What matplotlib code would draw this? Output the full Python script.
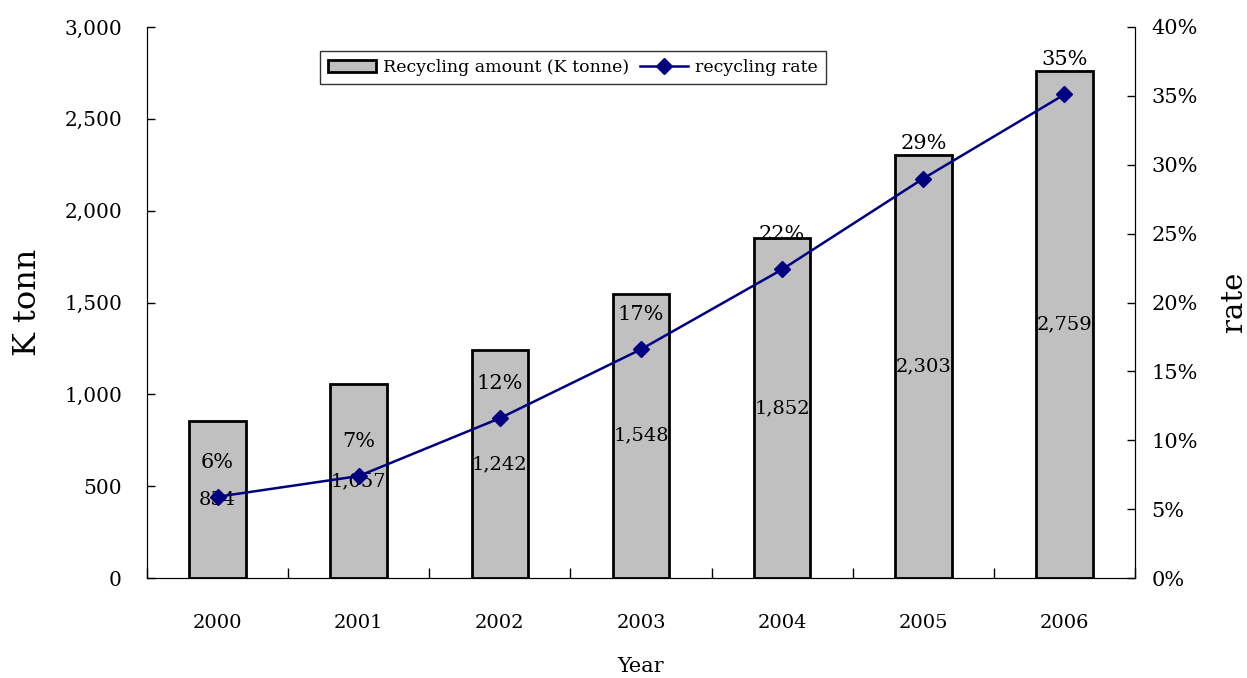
import numpy as np
import matplotlib
matplotlib.use("Agg")
import matplotlib.pyplot as plt
from matplotlib.ticker import FuncFormatter, MultipleLocator

# data
years = ["2000", "2001", "2002", "2003", "2004", "2005", "2006"]
amount = [854, 1057, 1242, 1548, 1852, 2303, 2759]  # K tonne
rate = [5.9, 7.4, 11.6, 16.6, 22.4, 29.0, 35.1]  # percent

plt.rcParams["font.family"] = ["DejaVu Serif"]

fig = plt.figure(figsize=(12.47, 6.78), dpi=100)
ax = fig.add_axes([147 / 1247, 100 / 678, 988 / 1247, 551 / 678])
x = np.arange(len(years))

ax.bar(x, amount, width=0.4, color="#C0C0C0", edgecolor="black", linewidth=2,
       label="Recycling amount (K tonne)", zorder=2)
for xi, v in zip(x, amount):
    ax.text(xi, v / 2, f"{v:,}", ha="center", va="center", fontsize=14, zorder=3)

ax.set_xlim(-0.5, len(years) - 0.5)
ax.set_ylim(0, 3000)
ax.yaxis.set_major_locator(MultipleLocator(500))
ax.yaxis.set_major_formatter(FuncFormatter(lambda v, p: f"{int(v):,}"))
ax.set_xticks(x)
ax.set_xticklabels(years)
ax.set_xticks(np.arange(-0.5, len(years)), minor=True)
ax.tick_params(axis="x", which="major", length=0, pad=26, labelsize=14)
ax.tick_params(axis="x", which="minor", direction="in", length=7, width=1)
ax.tick_params(axis="y", direction="in", length=6, width=1, pad=18, labelsize=14.5)
ax.spines["top"].set_visible(False)
ax.set_xlabel("Year", fontsize=15, labelpad=18)
ax.set_ylabel("K tonn", fontsize=23)
ax.yaxis.set_label_coords(-0.105, 0.5)

ax2 = ax.twinx()
ax2.plot(x, rate, color="#000080", marker="D", markersize=8, linewidth=1.8,
         label="recycling rate", zorder=4)
for xi, r in zip(x, rate):
    ax2.annotate(f"{round(r):d}%", (xi, r), xytext=(0, 25), textcoords="offset points",
                 ha="center", va="center", fontsize=15)
ax2.set_ylim(0, 40)
ax2.yaxis.set_major_locator(MultipleLocator(5))
ax2.yaxis.set_major_formatter(FuncFormatter(lambda v, p: f"{int(v)}%"))
ax2.tick_params(axis="y", direction="in", length=6, width=1, pad=12, labelsize=15)
ax2.spines["top"].set_visible(False)
fig.text(1220 / 1247, 0.555, "rate", rotation=90, ha="left", va="center", fontsize=21)

h1, l1 = ax.get_legend_handles_labels()
h2, l2 = ax2.get_legend_handles_labels()
leg = ax2.legend(h1 + h2, l1 + l2, loc="upper center", bbox_to_anchor=(0.431, 0.972),
                 ncol=2, fontsize=12.5, frameon=True, fancybox=False, edgecolor="black",
                 handlelength=2.8, columnspacing=0.6, handletextpad=0.4,
                 borderpad=0.45)
leg.get_frame().set_linewidth(1)

fig.savefig("out.png", dpi=100)
